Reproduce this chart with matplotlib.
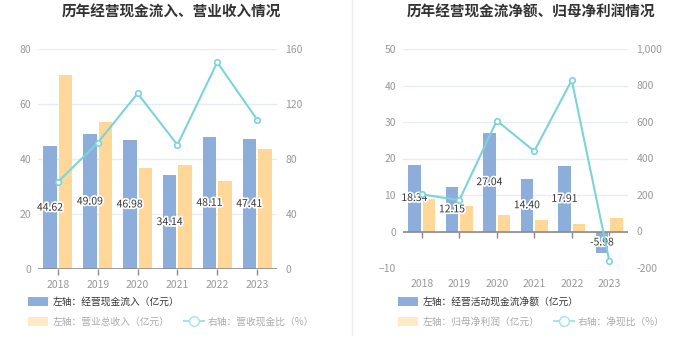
import matplotlib.pyplot as plt
import matplotlib.patheffects as pe
from matplotlib.lines import Line2D
from matplotlib.patches import Patch
from matplotlib.ticker import FuncFormatter
import numpy as np

plt.rcParams['font.family'] = ['Noto Sans CJK SC', 'DejaVu Sans']

# Data
years = ['2018', '2019', '2020', '2021', '2022', '2023']
cash_in = [44.62, 49.09, 46.98, 34.14, 48.11, 47.41]
revenue = [70.5, 53.5, 36.8, 37.8, 32.0, 43.6]
cash_ratio = [63.3, 91.8, 127.7, 90.3, 150.3, 108.7]
net_cash = [18.34, 12.15, 27.04, 14.40, 17.91, -5.98]
net_profit = [9.0, 7.1, 4.45, 3.27, 2.16, 3.75]
net_ratio = [203.8, 171.1, 607.6, 440.4, 829.2, -159.5]

BLUE = '#8DADDA'
ORANGE = '#FFD899'
CYAN = '#7DD3D8'
GRID = '#E6EBF4'
TICK = '#999999'
DARK = '#333333'

fig = plt.figure(figsize=(7, 3.6), dpi=100)
x = np.arange(len(years))
w = 0.34
off = 0.195


def style_axes(ax, ax2):
    for sp in ax.spines.values():
        sp.set_visible(False)
    for sp in ax2.spines.values():
        sp.set_visible(False)
    ax.grid(axis='y', color=GRID, linewidth=1)
    ax.set_axisbelow(True)
    ax.tick_params(axis='y', length=0, labelsize=7.5, labelcolor=TICK, pad=5)
    ax2.tick_params(axis='y', length=0, labelsize=7.5, labelcolor=TICK, pad=6)
    ax.tick_params(axis='x', length=0, labelsize=7.5, labelcolor=TICK, pad=8)
    ax.set_xlim(-0.5, len(years) - 0.5)
    ax.set_xticks(x)
    ax.set_xticklabels(years)


def bar_labels(ax, vals):
    for xi, v in zip(x, vals):
        ax.text(xi - off, v / 2, f'{v:.2f}', ha='center', va='center', fontsize=7.5,
                color=DARK, zorder=6,
                path_effects=[pe.withStroke(linewidth=2.5, foreground='white')])


def zero_axis(ax):
    ax.axhline(0, color='#8C8C8C', linewidth=1.2, zorder=3)
    ax.plot(x, np.zeros(len(x)), linestyle='none', marker=3, markersize=4,
            color='#8C8C8C', markeredgewidth=1, zorder=3, clip_on=False)


def legend(ax, first, second, third, x0):
    h1 = [Patch(facecolor=BLUE, edgecolor='none')]
    lg1 = fig.legend(h1, [first], loc='center left', bbox_to_anchor=(x0, 1 - 302 / 360),
                     frameon=False, fontsize=7, handlelength=2.05, handleheight=1.1,
                     handletextpad=0.45, borderpad=0, borderaxespad=0)
    lg1.get_texts()[0].set_color(DARK)
    h2 = [Patch(facecolor='#FFE9C6', edgecolor='none'),
          Line2D([], [], color='#A9E3E6', marker='o', markersize=7,
                 markerfacecolor='white', markeredgecolor='#A9E3E6', linewidth=1.5)]
    lg2 = fig.legend(h2, [second, third], loc='center left',
                     bbox_to_anchor=(x0, 1 - 322 / 360), ncol=2,
                     frameon=False, fontsize=7, handlelength=2.05, handleheight=1.1,
                     handletextpad=0.45, columnspacing=1.5, borderpad=0, borderaxespad=0)
    for t in lg2.get_texts():
        t.set_color('#AAAAAA')


# Left chart
ax1 = fig.add_axes([38 / 700, 1 - 269 / 360, 239 / 700, 220 / 360])
ax1r = ax1.twinx()
ax1.bar(x - off, cash_in, w, color=BLUE, zorder=2)
ax1.bar(x + off, revenue, w, color=ORANGE, zorder=2)
ax1.set_ylim(0, 80)
ax1.set_yticks([0, 20, 40, 60, 80])
ax1r.set_ylim(0, 160)
ax1r.set_yticks([0, 40, 80, 120, 160])
style_axes(ax1, ax1r)
zero_axis(ax1)
bar_labels(ax1, cash_in)
ax1r.plot(x, cash_ratio, color=CYAN, linewidth=1.5, marker='o', markersize=4,
          markerfacecolor='white', markeredgecolor=CYAN, markeredgewidth=1.2, zorder=5)
ax1r.set_zorder(ax1.get_zorder() + 1)
ax1r.patch.set_visible(False)
fig.text(171 / 700, 1 - 12 / 360, '历年经营现金流入、营业收入情况', ha='center', va='center',
         fontsize=10.5, fontweight='bold', color=DARK)
legend(ax1, '左轴：经营现金流入（亿元）', '左轴：营业总收入（亿元）', '右轴：营收现金比（%）', 28 / 700)

# Right chart
ax2 = fig.add_axes([403 / 700, 1 - 268 / 360, 225 / 700, 219 / 360])
ax2r = ax2.twinx()
ax2.bar(x - off, net_cash, w, color=BLUE, zorder=2)
ax2.bar(x + off, net_profit, w, color=ORANGE, zorder=2)
ax2.set_ylim(-10, 50)
ax2.set_yticks([-10, 0, 10, 20, 30, 40, 50])
ax2r.set_ylim(-200, 1000)
ax2r.set_yticks([-200, 0, 200, 400, 600, 800, 1000])
ax2r.yaxis.set_major_formatter(FuncFormatter(lambda v, p: f'{v:,.0f}'))
style_axes(ax2, ax2r)
zero_axis(ax2)
bar_labels(ax2, net_cash)
ax2r.plot(x, net_ratio, color=CYAN, linewidth=1.5, marker='o', markersize=4,
          markerfacecolor='white', markeredgecolor=CYAN, markeredgewidth=1.2, zorder=5)
ax2r.set_zorder(ax2.get_zorder() + 1)
ax2r.patch.set_visible(False)
fig.text(531 / 700, 1 - 12 / 360, '历年经营现金流净额、归母净利润情况', ha='center', va='center',
         fontsize=10.5, fontweight='bold', color=DARK)
legend(ax2, '左轴：经营活动现金流净额（亿元）', '左轴：归母净利润（亿元）', '右轴：净现比（%）', 398 / 700)

# faint divider between panels
fig.add_artist(Line2D([352 / 700, 352 / 700], [1 - 335 / 360, 1], color='#EEEEEE', linewidth=1))

fig.savefig('out.png', dpi=100)
